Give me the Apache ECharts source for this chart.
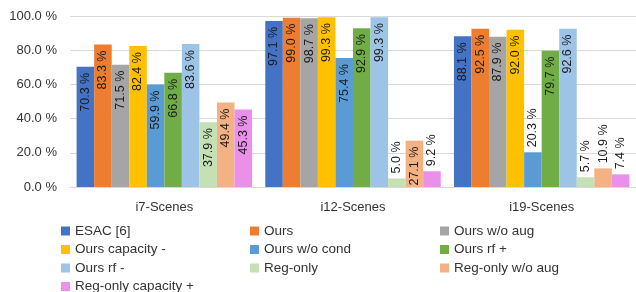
<!DOCTYPE html>
<html>
<head>
<meta charset="utf-8">
<script src="https://cdn.jsdelivr.net/npm/echarts@6/dist/echarts.min.js"></script>
<style>
  html, body { margin: 0; padding: 0; background: #fff; }
  #chart { width: 636px; height: 292px; }
</style>
</head>
<body>
<div id="chart"></div>
<script>
// categories
const scenes = ['i7-Scenes', 'i12-Scenes', 'i19-Scenes'];
// series values (%), one per method
const esac = [70.3, 97.1, 88.1];
const ours = [83.3, 99.0, 92.5];
const oursNoAug = [71.5, 98.7, 87.9];
const oursCapMinus = [82.4, 99.3, 92.0];
const oursNoCond = [59.9, 75.4, 20.3];
const oursRfPlus = [66.8, 92.9, 79.7];
const oursRfMinus = [83.6, 99.3, 92.6];
const regOnly = [37.9, 5.0, 5.7];
const regOnlyNoAug = [49.4, 27.1, 10.9];
const regOnlyCapPlus = [45.3, 9.2, 7.4];
// y ticks
const yTicks = [0, 20, 40, 60, 80, 100];

const names = ['ESAC [6]', 'Ours', 'Ours w/o aug', 'Ours capacity -', 'Ours w/o cond',
  'Ours rf +', 'Ours rf -', 'Reg-only', 'Reg-only w/o aug', 'Reg-only capacity +'];
const values = [esac, ours, oursNoAug, oursCapMinus, oursNoCond,
  oursRfPlus, oursRfMinus, regOnly, regOnlyNoAug, regOnlyCapPlus];
const colors = ['#4472C4', '#ED7D31', '#A5A5A5', '#FFC000', '#5B9BD5',
  '#70AD47', '#9DC3E6', '#C5E0B4', '#F4B183', '#EA8FEA'];

window.onload = function () {
  const myChart = echarts.init(document.getElementById('chart'));

  const series = names.map((name, i) => ({
    name: name,
    type: 'bar',
    barGap: '0%',
    barCategoryGap: '7%',
    itemStyle: { color: colors[i] },
    label: {
      show: true,
      position: 'insideTop',
      rotate: 90,
      align: 'right',
      verticalAlign: 'middle',
      distance: 6,
      fontFamily: 'Liberation Sans',
      fontSize: 12.5,
      color: '#1a1a1a',
      formatter: p => p.value.toFixed(1) + ' %'
    },
    // short bars get their label above the bar
    data: values[i].map(v => v < 25
      ? { value: v, label: { position: 'top', align: 'left', distance: 5 } }
      : v)
  }));

  // legend rows are 18.5px apart, laid out as 3 columns
  const legendBase = {
    orient: 'vertical',
    padding: 0,
    icon: 'rect',
    itemWidth: 9,
    itemHeight: 9,
    itemGap: 3.5,
    textStyle: { fontFamily: 'Liberation Sans', fontSize: 13.5, color: '#333', lineHeight: 15 }
  };

  const option = {
    animation: false,
    color: colors,
    grid: { left: 70, right: 0, top: 16, bottom: 105 },
    legend: [
      Object.assign({ left: 61, top: 223.5, data: [names[0], names[3], names[6]] }, legendBase),
      Object.assign({ left: 61, top: 279, data: [names[9]] }, legendBase),
      Object.assign({ left: 250, top: 223.5, data: [names[1], names[4], names[7]] }, legendBase),
      Object.assign({ left: 440, top: 223.5, data: [names[2], names[5], names[8]] }, legendBase)
    ],
    xAxis: {
      type: 'category',
      data: scenes,
      axisTick: { show: false },
      axisLine: { lineStyle: { color: '#d9d9d9' } },
      axisLabel: { margin: 14, fontFamily: 'Liberation Sans', fontSize: 13, color: '#333' }
    },
    yAxis: {
      type: 'value',
      min: yTicks[0],
      max: yTicks[yTicks.length - 1],
      interval: 20,
      axisLine: { show: false },
      axisTick: { show: false },
      splitLine: { lineStyle: { color: '#d9d9d9' } },
      axisLabel: {
        margin: 13,
        fontFamily: 'Liberation Sans',
        fontSize: 13,
        color: '#333',
        formatter: v => v.toFixed(1) + ' %'
      }
    },
    series: series
  };
  myChart.setOption(option);
};
</script>
</body>
</html>
